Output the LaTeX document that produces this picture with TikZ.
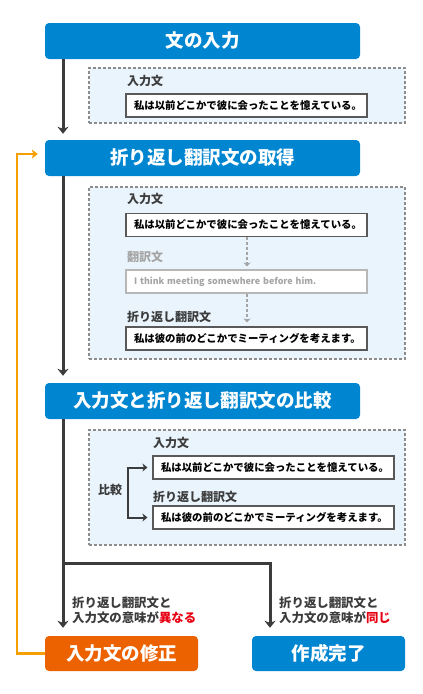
\documentclass[tikz,border=0pt]{standalone}
\usepackage{fontspec}
\setmainfont{Noto Sans CJK JP}
\usetikzlibrary{arrows.meta,calc}
\definecolor{mblue}{HTML}{0086D1}
\definecolor{morange}{HTML}{EC6100}
\definecolor{lorange}{HTML}{F5A000}
\definecolor{darr}{HTML}{3C3C3C}
\definecolor{pfill}{HTML}{E9F4FC}
\definecolor{pdash}{HTML}{8C8C8C}
\definecolor{mred}{HTML}{E60012}
\definecolor{lgray}{HTML}{A5A5A5}
\tikzset{
  every node/.style={font=\bfseries},
  titlebox/.style={fill=mblue, rounded corners=4pt, text=white, minimum width=315pt, minimum height=36pt, inner sep=0pt, font=\bfseries\fontsize{18.5}{20}\selectfont},
  endbox/.style={rounded corners=4pt, text=white, minimum width=153pt, minimum height=35pt, inner sep=0pt, font=\bfseries\fontsize{18.5}{20}\selectfont},
  panel/.style={draw=pdash, fill=pfill, dash pattern=on 3pt off 2pt, line width=1.1pt, minimum width=316pt, inner sep=0pt},
  sentbox/.style={draw=darr!85, fill=white, line width=1.1pt, text width=225pt, inner xsep=8pt, inner ysep=0pt, minimum height=23pt, align=left, font=\bfseries\fontsize{10.4}{12}\selectfont},
  label/.style={anchor=west, inner sep=0pt, font=\bfseries\fontsize{12}{14}\selectfont, text=darr},
  mainarr/.style={draw=darr, line width=3pt, -{Stealth[length=7pt,width=11pt,inset=2pt]}},
  bracketarr/.style={draw=darr, line width=2pt, -{Stealth[length=5pt,width=8pt,inset=1.5pt]}},
  grayarr/.style={draw=lgray, line width=2pt, dash pattern=on 3pt off 2pt, -{Stealth[length=4pt,width=7pt,inset=1pt]}},
  orarr/.style={draw=lorange, line width=2.4pt, -{Stealth[length=6pt,width=9pt,inset=1.5pt]}},
  cond/.style={anchor=west, align=left, inner sep=0pt, text=darr, font=\bfseries\fontsize{12.4}{15}\selectfont},
}
\begin{document}
\begin{tikzpicture}[x=1pt,y=-1pt]
\useasboundingbox (0,0) rectangle (423,694);
% title boxes
\node[titlebox] (b1) at (202.5,41) {文の入力};
\node[titlebox] (b2) at (202.5,158) {折り返し翻訳文の取得};
\node[titlebox] (b3) at (202.5,401) {入力文と折り返し翻訳文の比較};
\node[endbox, fill=morange] (b4) at (121.5,653.5) {入力文の修正};
\node[endbox, fill=mblue] (b5) at (328.5,653.5) {作成完了};
% panels
\node[panel, minimum height=55pt] (p1) at (247,95.5) {};
\node[panel, minimum height=172pt] (p2) at (247,273) {};
\node[panel, minimum height=115pt] (p3) at (247,487.5) {};
% panel 1
\node[label] (l1) at (127,81) {入力文};
\node[sentbox] (s1) at (246.5,105.5) {私は以前どこかで彼に会ったことを憶えている。};
% panel 2
\node[label] (l2) at (127,199) {入力文};
\node[sentbox] (s2) at (246.5,225) {私は以前どこかで彼に会ったことを憶えている。};
\node[label, text=lgray] (l3) at (127,257) {翻訳文};
\node[sentbox, draw=lgray!80, text=lgray, font=\bfseries\fontsize{8.9}{11}\selectfont] (g) at (246.5,281.5) {I think meeting somewhere before him.};
\node[label] (l4) at (127,317) {折り返し翻訳文};
\node[sentbox] (s3) at (246.5,338.5) {私は彼の前のどこかでミーティングを考えます。};
\draw[grayarr, shorten >=3pt] (s2.south -| 247,0) -- (g.north -| 247,0);
\draw[grayarr, shorten >=4pt] (g.south -| 247,0) -- (s3.north -| 247,0);
% panel 3
\node[label] (l5) at (153,443) {入力文};
\node[sentbox] (s4) at (273.5,467.5) {私は以前どこかで彼に会ったことを憶えている。};
\node[label] (l6) at (153,497) {折り返し翻訳文};
\node[sentbox] (s5) at (273.5,517.5) {私は彼の前のどこかでミーティングを考えます。};
\node[label, font=\bfseries\fontsize{12}{14}\selectfont] (cmp) at (98,490) {比較};
\coordinate (bt) at (128,467.5);
\coordinate (bb) at (128,517.5);
\draw[bracketarr, shorten >=5pt] (bb) -- (bt) -- (s4.west);
\draw[bracketarr, shorten >=5pt] (bt) -- (bb) -- (s5.west);
% main flow
\draw[mainarr, shorten >=6pt] (b1.south -| 63,0) -- (b2.north -| 63,0);
\draw[mainarr, shorten >=7pt] (b2.south -| 63,0) -- (b3.north -| 63,0);
\draw[mainarr, shorten >=8pt] (b3.south -| 63,0) -- (b4.north -| 63,0);
\coordinate (br) at (63,563);
\draw[mainarr, shorten >=8pt] (br) -| (b5.north -| 270,0);
% conditions
\node[cond] (c1) at (72,610.5) {折り返し翻訳文と\\入力文の意味が\textcolor{mred}{異なる}};
\node[cond] (c2) at (279,610.5) {折り返し翻訳文と\\入力文の意味が\textcolor{mred}{同じ}};
% feedback
\coordinate (fl) at (17,653.5);
\coordinate (ft) at (17,154);
\draw[orarr, shorten >=7pt] (b4.west) -- (fl) -- (ft) -- (b2.west |- ft);
\end{tikzpicture}
\end{document}
